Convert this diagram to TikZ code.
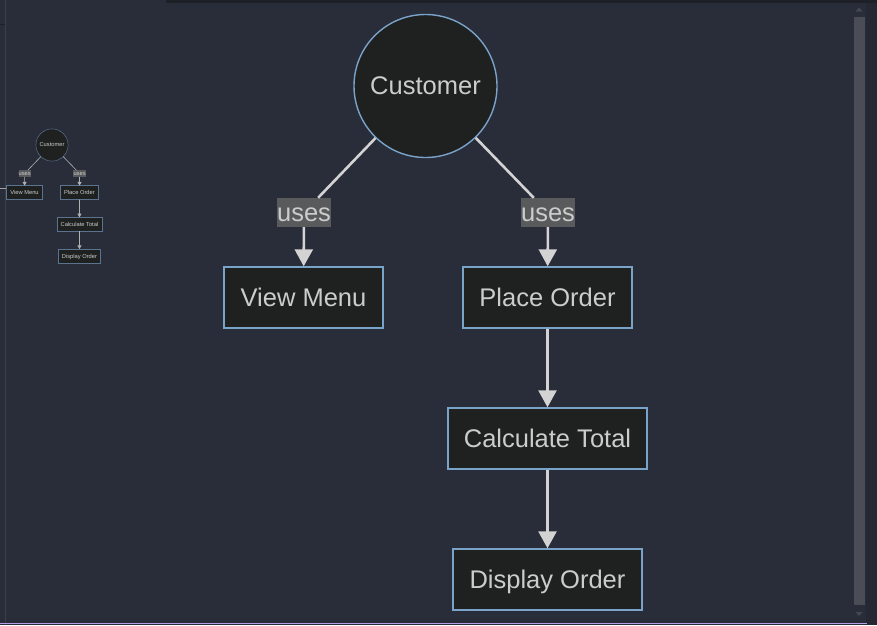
\documentclass[tikz,border=0pt]{standalone}
\usepackage{fontspec}
\setmainfont{Liberation Sans}
\usetikzlibrary{arrows.meta}
\definecolor{bg}{RGB}{41,44,57}
\definecolor{nodefill}{RGB}{31,32,32}
\definecolor{nodeborder}{RGB}{122,163,202}
\definecolor{txt}{RGB}{204,204,204}
\definecolor{linec}{RGB}{211,211,211}
\definecolor{lblfill}{RGB}{89,90,92}
\definecolor{sidel}{RGB}{60,63,70}
\definecolor{topstrip}{RGB}{30,32,40}
\definecolor{track}{RGB}{75,77,86}
\definecolor{rightcol}{RGB}{37,39,50}
\definecolor{purp}{RGB}{180,160,228}
\newcommand\drawflow[1]{%
  \node[custnode] (#1cust) at (425.5,86) {Customer};
  \node[lblbox] (#1uL) at (304,212.5) {uses};
  \node[lblbox] (#1uR) at (548,212.5) {uses};
  \node[boxnode,minimum width=159pt] (#1view) at (303.5,297.5) {View Menu};
  \node[boxnode,minimum width=169pt] (#1place) at (547.5,297.5) {Place Order};
  \node[boxnode,minimum width=199pt] (#1calc) at (547.5,438.5) {Calculate Total};
  \node[boxnode,minimum width=189pt] (#1disp) at (547.5,579.5) {Display Order};
  \draw[conn] (#1cust) -- (#1uL);
  \draw[conn] (#1cust) -- (#1uR);
  \draw[conn,arr] (#1uL) -- (#1view);
  \draw[conn,arr] (#1uR) -- (#1place);
  \draw[conn,arr] (#1place) -- (#1calc);
  \draw[conn,arr] (#1calc) -- (#1disp);
}
\begin{document}
\begin{tikzpicture}[x=1pt,y=-1pt,
  lbltext/.style={text=txt,font=\fontsize{25.5}{30}\selectfont,text height=23.1pt,text depth=5.4pt},
  custnode/.style={lbltext,circle,draw=nodeborder,fill=nodefill,line width=1.4pt,minimum size=143pt,inner sep=0pt},
  boxnode/.style={lbltext,rectangle,draw=nodeborder,fill=nodefill,line width=1.4pt,minimum height=61pt,inner sep=0pt},
  lblbox/.style={lbltext,rectangle,fill=lblfill,minimum width=54pt,minimum height=29pt,inner sep=0pt},
  conn/.style={draw=linec,line width=2.6pt},
  arr/.style={-{Triangle[length=17pt,width=18pt]}}]
\fill[bg] (0,0) rectangle (877,625);
\useasboundingbox (0,0) rectangle (877,625);
% chrome
\fill[topstrip] (166,0) rectangle (877,2.5);
\fill[rightcol] (866,2.5) rectangle (877,625);
\draw[sidel,line width=1pt] (5.5,0) -- (5.5,625);
\draw[topstrip,line width=1pt] (0,24.5) -- (5,24.5);
\draw[linec!70!bg,line width=1pt] (0,188.5) -- (6,188.5);
\fill[track] (854,17) rectangle (865,605);
\fill[track!80!bg] (855.5,11.5) -- (862.5,11.5) -- (859,7.5) -- cycle;
\fill[track!80!bg] (855.5,612) -- (862.5,612) -- (859,616) -- cycle;
\fill[purp] (0,622.5) rectangle (867,624);
% main diagram
\drawflow{m}
% minimap
\begin{scope}[shift={(52,145)},scale=0.225,transform shape,shift={(-425.5,-86)},
  custnode/.append style={line width=0.5pt,draw=nodeborder!60!bg},
  boxnode/.append style={line width=0.5pt,draw=nodeborder!60!bg},
  conn/.append style={line width=0.6pt,draw=linec!80!bg},
  arr/.style={-{Triangle[length=3.8pt,width=4pt]}}]
\drawflow{s}
\end{scope}
\end{tikzpicture}
\end{document}
